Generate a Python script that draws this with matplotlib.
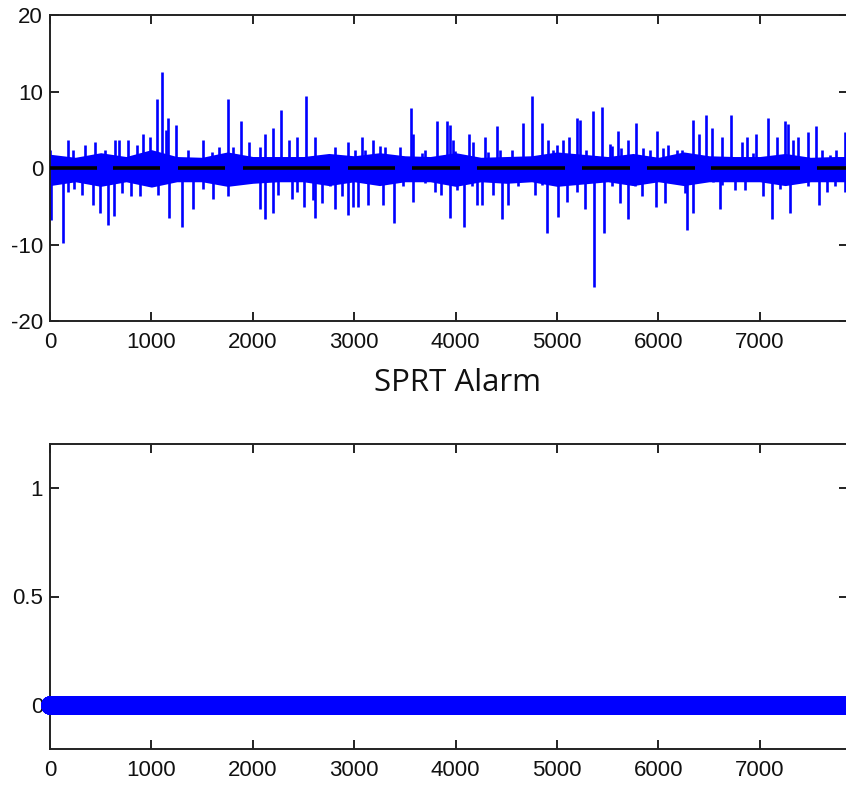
import numpy as np
import matplotlib
matplotlib.use("Agg")
import matplotlib.pyplot as plt

plt.rcParams["axes.unicode_minus"] = False

# ---------------- data ----------------
n_samples = 7870

# residual spikes above zero (sample index, value)
pos_x = [0, 181, 231, 345, 444, 542, 641, 680, 766, 855, 920, 986, 1052, 1108, 1140, 1167, 1239,
         1364, 1512, 1594, 1670, 1752, 1808, 1880, 1966, 2070, 2120, 2202, 2278, 2360, 2439, 2521, 2613,
         2810, 2942, 3007, 3073, 3106, 3188, 3254, 3303, 3385, 3451, 3556, 3583, 3664, 3697, 3813, 3911,
         3944, 3977, 3993, 4075, 4135, 4174, 4290, 4322, 4404, 4437, 4552, 4667, 4749, 4848, 4914, 4963,
         4996, 5062, 5121, 5200, 5225, 5291,
         5357, 5440, 5521, 5538, 5597, 5630, 5702, 5784, 5850, 5916, 5991, 6047, 6097, 6179, 6228,
         6343, 6399, 6465, 6524, 6629,
         6721, 6820, 6869, 6935, 6958, 7083, 7165, 7247, 7280, 7323, 7378, 7477, 7559, 7609, 7690,
         7756, 7838]
pos_y = [2.4, 3.7, 2.4, 3.0, 3.4, 2.4, 3.6, 3.7, 3.7, 3.0, 4.4, 4.1, 9.0, 12.5, 5.0, 6.5, 5.6,
         2.4, 3.7, 2.1, 2.7, 9.0, 2.8, 6.2, 3.4, 2.7, 4.4, 5.2, 7.6, 3.7, 4.1, 9.4, 4.1,
         2.7, 3.4, 2.4, 4.1, 2.4, 3.7, 2.9, 2.7, 1.5, 2.7, 7.9, 4.5, 1.9, 2.4, 6.2, 6.1,
         5.6, 3.7, 2.2, 1.7, 4.4, 3.4, 4.0, 2.1, 5.5, 2.4, 2.4, 5.9, 9.4, 5.9, 3.7, 2.4,
         3.0, 3.7, 4.0, 6.5, 6.3, 2.4,
         7.4, 8.0, 3.2, 2.9, 4.9, 2.6, 3.7, 5.9, 2.6, 2.4, 4.9, 2.6, 3.0, 2.4, 2.3,
         6.3, 4.4, 6.9, 5.2, 4.1,
         6.9, 3.4, 4.1, 2.0, 4.4, 6.5, 4.0, 6.1, 5.8, 3.7, 4.0, 4.7, 5.5, 2.4, 1.7,
         2.4, 4.7]

# residual spikes below zero (sample index, value)
neg_x = [10, 131, 181, 240, 312, 427, 493, 575, 631, 706, 799, 887, 1068, 1174, 1298,
         1407, 1512, 1611, 1758, 1857, 1972, 2070, 2120, 2195, 2251, 2333, 2383, 2439, 2505, 2597,
         2613, 2679, 2761, 2810, 2876, 2942, 2991, 3040, 3132, 3287, 3395, 3484, 3576, 3697, 3796,
         3855, 3944, 4009, 4082, 4157, 4207, 4256, 4371, 4453, 4519, 4618, 4782, 4848, 4904, 5012,
         5094, 5193, 5275,
         5364, 5466, 5538, 5620, 5702, 5768, 5840, 5981, 6064, 6261, 6287, 6343, 6540, 6606,
         6623, 6754, 6853, 7033, 7116, 7198, 7296, 7477, 7586, 7658, 7740, 7838]
neg_y = [-6.8, -9.8, -3.1, -2.7, -3.5, -4.8, -5.9, -7.5, -6.3, -3.3, -3.7, -3.7, -3.5, -6.6, -7.7,
         -5.3, -2.7, -4.0, -3.7, -2.0, -1.6, -5.3, -6.7, -5.9, -3.5, -1.6, -4.0, -3.1, -5.1, -4.2,
         -6.6, -4.6, -2.4, -5.3, -3.7, -6.1, -5.1, -5.1, -4.8, -4.8, -7.2, -2.4, -4.4, -2.0, -3.1,
         -3.5, -6.6, -2.9, -7.7, -2.4, -4.8, -4.8, -3.5, -6.7, -4.8, -2.4, -3.5, -2.2, -8.5, -6.4,
         -4.5, -3.1, -5.3,
         -15.5, -8.5, -2.4, -4.6, -6.7, -2.4, -3.7, -5.1, -4.6, -3.3, -8.1, -5.9, -1.8, -5.3,
         -2.2, -2.9, -2.9, -3.7, -6.7, -2.7, -5.9, -2.4, -4.8, -3.1, -2.4, -3.1]

# dense noise core envelope, sampled every 250 samples (last point at the end)
band_x = list(range(0, 8000, 250)) + [n_samples]
band_hi = [1.8, 1.4, 2.0, 1.5, 2.4, 1.5, 1.4, 2.1, 1.5, 1.5, 1.5, 1.9, 1.6, 2.0, 1.6, 1.5,
           2.0, 1.4, 1.5, 1.6, 2.1, 1.8, 1.5, 1.9, 1.4, 2.1, 1.6, 1.5, 1.5, 1.9, 1.4, 1.5, 1.5]
band_lo = [-2.3, -1.8, -2.4, -1.8, -2.5, -1.8, -1.8, -2.4, -2.0, -1.8, -1.8, -2.3, -1.8, -2.3, -1.8, -1.8,
           -2.4, -1.8, -2.0, -1.8, -2.4, -2.1, -1.8, -2.3, -1.8, -2.3, -1.8, -1.8, -1.8, -2.3, -1.8, -1.8, -1.8]

# black zero-level segments
zero_seg_start = [0, 621, 1262, 1903, 2939, 3570, 4211, 5247, 5888, 6519, 7564]
zero_seg_end = [463, 1085, 1726, 2761, 3402, 4043, 5079, 5720, 6361, 7396, 7870]

# SPRT alarm (no alarm raised)
alarm = np.zeros(n_samples)

x_ticks = [0, 1000, 2000, 3000, 4000, 5000, 6000, 7000]
y1_ticks = [-20, -10, 0, 10, 20]
y2_ticks = [0, 0.5, 1]
y2_labels = ["0", "0.5", "1"]
title_text = "SPRT Alarm"

# ---------------- drawing ----------------
W, H = 846, 786
fig = plt.figure(figsize=(W / 100, H / 100), dpi=100)
ax1 = fig.add_axes([50 / W, 1 - 321 / H, 798 / W, 306 / H])
ax2 = fig.add_axes([50 / W, 1 - 749 / H, 798 / W, 305 / H])

blue = "#0000ff"
txt_col = "#111111"

# top: residual
ax1.fill_between(band_x, band_lo, band_hi, color=blue, linewidth=0, zorder=2)
ax1.vlines(pos_x, 0, pos_y, color=blue, linewidth=1.9, zorder=2)
ax1.vlines(neg_x, 0, neg_y, color=blue, linewidth=1.9, zorder=2)
for s, e in zip(zero_seg_start, zero_seg_end):
    ax1.plot([s, e], [0, 0], color="black", linewidth=2.6, solid_capstyle="butt", zorder=3)
ax1.set_xlim(0, n_samples)
ax1.set_ylim(-20, 20)
ax1.set_yticks(y1_ticks)

# bottom: alarm
ax2.plot(np.arange(n_samples), alarm, linestyle="none", marker="o", markersize=12.5,
         markerfacecolor=blue, markeredgecolor=blue, markeredgewidth=1, clip_on=False, zorder=3)
ax2.set_xlim(0, n_samples)
ax2.set_ylim(-0.2, 1.2)
ax2.set_yticks(y2_ticks)
ax2.set_yticklabels(y2_labels)

for ax in (ax1, ax2):
    ax.set_xticks(x_ticks)
    ax.set_xticklabels([str(t) for t in x_ticks])
    ax.tick_params(direction="in", length=6.5, width=1.4, top=True, right=True,
                   labelsize=16, colors="#222222", labelcolor=txt_col)
    ax.tick_params(axis="x", pad=8)
    ax.tick_params(axis="y", pad=5)
    for lab in ax.get_xticklabels() + ax.get_yticklabels():
        lab.set_family("Liberation Sans")
    for sp in ax.spines.values():
        sp.set_linewidth(1.4)
        sp.set_color("#222222")

fig.text(457 / W, 1 - 383 / H, title_text, ha="center", va="center",
         fontsize=22.5, family="Open Sans", color="#111111")

fig.savefig("out.png", dpi=100)
